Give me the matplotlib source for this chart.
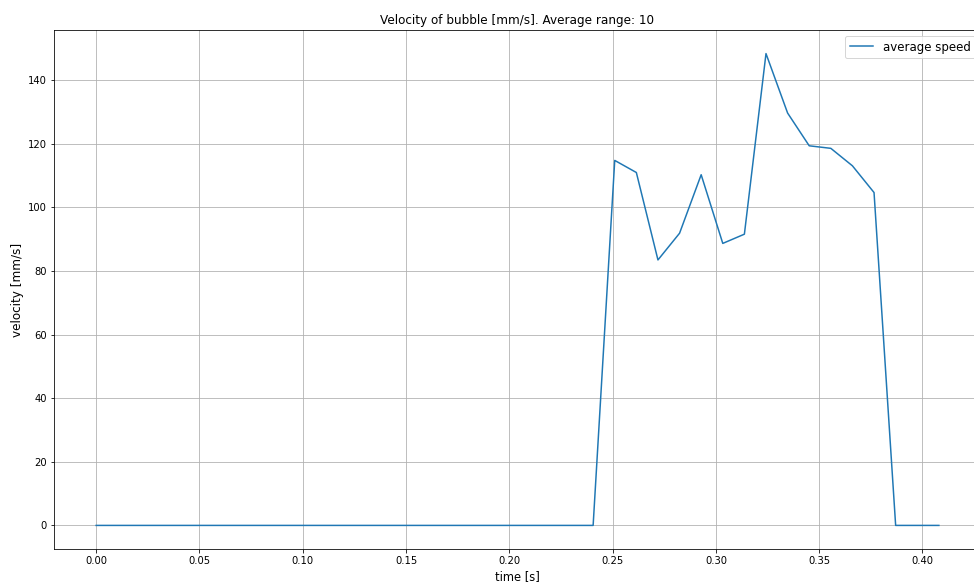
import matplotlib.pyplot as plt
import numpy as np

# frame step of the recording
dt = 0.01046
n_frames = 40

# average speed per frame [mm/s]; first 24 frames the bubble is at rest
speed = [0.0] * 24 + [114.8, 111.0, 83.5, 91.9, 110.3, 88.7, 91.6, 148.4,
                      129.7, 119.4, 118.6, 113.1, 104.7, 0.0, 0.0, 0.0]
time = np.arange(n_frames) * dt

fig = plt.figure(figsize=(974 / 72, 582 / 72), dpi=72)
ax = fig.add_axes([54 / 974, 33 / 582, (981 - 54) / 974, 519 / 582])

ax.plot(time, speed, color="tab:blue", label="average speed")
ax.grid(True)
ax.set_title("Velocity of bubble [mm/s]. Average range: 10", fontsize=12)
ax.set_xlabel("time [s]", fontsize=11.5)
ax.set_ylabel("velocity [mm/s]", fontsize=12)
ax.tick_params(labelsize=10)
ax.legend(loc="upper right", fontsize=11.7)

fig.savefig("out.png", dpi=72)
